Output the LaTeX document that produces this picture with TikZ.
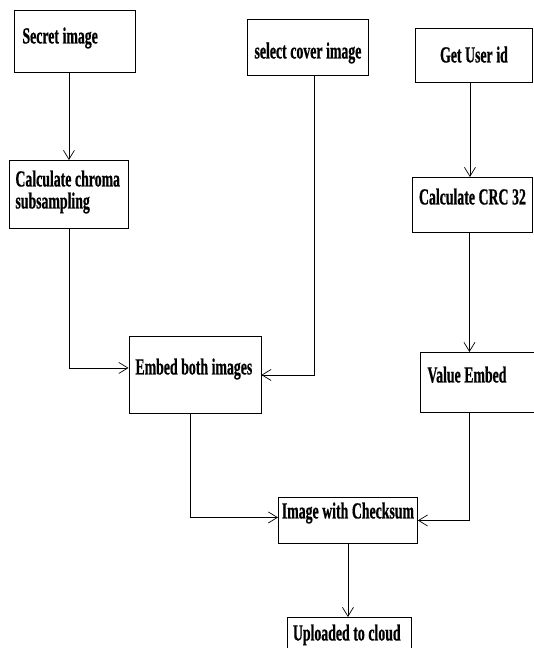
\documentclass[tikz,border=0pt]{standalone}
\usepackage{fontspec}
\newfontfamily\boxfont{Liberation Serif Bold}[FakeStretch=0.6, FakeBold=0.6]
\newcommand\boxtext{\boxfont\fontsize{23}{22}\selectfont\spaceskip 3.6pt\relax}
\usetikzlibrary{arrows.meta}

\begin{document}
\begin{tikzpicture}[x=1pt, y=-1pt, >={Straight Barb[length=9pt,width=11pt]},
  box/.style={draw, line width=0.9pt, anchor=north west, inner ysep=0pt, font=\boxtext},
  flow/.style={->, line width=0.7pt}]
\useasboundingbox (0,0) rectangle (534,648);

\node[box, align=flush left, inner xsep=8pt, text width=105pt, text height=33pt, text depth=29pt] (secret) at (14,10) {Secret image};
\node[box, inner xsep=2pt, minimum width=121pt, text height=39pt, text depth=17pt] (cover) at (247,19) {select cover image};
\node[box, inner xsep=2pt, minimum width=117pt, text height=34pt, text depth=20pt] (userid) at (415,28) {Get User id};
\node[box, align=flush left, inner xsep=6pt, text width=107pt, text height=26pt, text depth=42pt] (chroma) at (9,160) {\mbox{Calculate chroma}\\subsampling};
\node[box, inner xsep=2pt, minimum width=120pt, text height=27pt, text depth=28pt] (crc) at (412,177) {Calculate CRC 32};
\node[box, align=flush left, inner xsep=6.5pt, text width=119pt, text height=38pt, text depth=39pt] (embed) at (128.5,336) {\mbox{Embed both images}};
\node[box, align=flush left, inner xsep=7pt, text width=106pt, text height=30pt, text depth=30pt] (value) at (420,352) {Value Embed};
\node[box, inner xsep=2pt, minimum width=139pt, text height=21pt, text depth=25pt] (checksum) at (278,497) {Image with Checksum};
\node[box, align=flush left, inner xsep=5.5pt, text width=113pt, text height=23pt, text depth=20pt] (uploaded) at (287,617) {\mbox{Uploaded to cloud}};

\coordinate (coverout) at ([xshift=6pt]cover.south);
\coordinate (uidout) at ([xshift=-4pt]userid.south);
\coordinate (crcout) at ([xshift=-3pt]crc.south);
\coordinate (embedout) at ([xshift=-5pt]embed.south);

\draw[flow] (secret.south -| chroma.north) -- (chroma.north);
\draw[flow] (chroma.south) |- ([yshift=7pt]embed.west);
\draw[flow] (coverout) |- (embed.east);
\draw[flow] (uidout) -- (uidout |- crc.north);
\draw[flow] (crcout) -- (crcout |- value.north);
\draw[flow] (embedout) |- ([yshift=3pt]checksum.west);
\draw[flow] (value.south -| crcout) |- (checksum.east);
\draw[flow] (checksum.south) -- (checksum.south |- uploaded.north);
\end{tikzpicture}
\end{document}
